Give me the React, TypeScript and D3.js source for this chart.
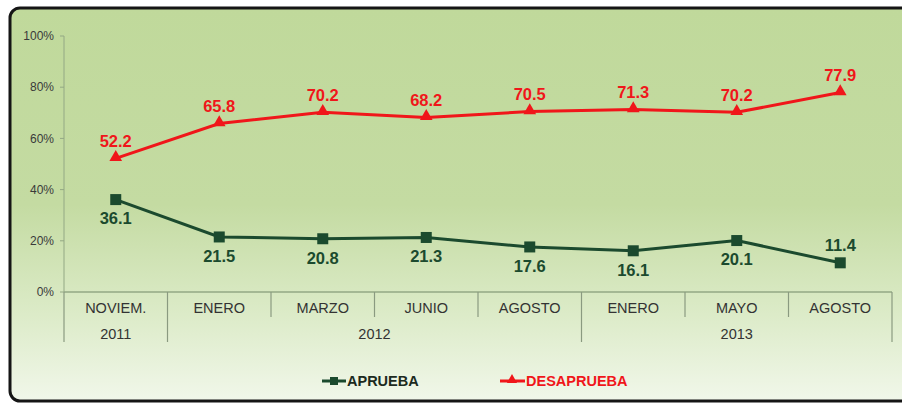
import React from "react";
import * as d3 from "d3";

const months = ["NOVIEM.", "ENERO", "MARZO", "JUNIO", "AGOSTO", "ENERO", "MAYO", "AGOSTO"];
const years = [
  { label: "2011", start: 0, end: 1 },
  { label: "2012", start: 1, end: 5 },
  { label: "2013", start: 5, end: 8 },
];
const aprueba = [36.1, 21.5, 20.8, 21.3, 17.6, 16.1, 20.1, 11.4];
const desaprueba = [52.2, 65.8, 70.2, 68.2, 70.5, 71.3, 70.2, 77.9];
const yTicks = [0, 20, 40, 60, 80, 100];
const apruebaAbove = [false, false, false, false, false, false, false, true];

const W = 902;
const H = 405;
const GREEN = "#1b4a2e";
const RED = "#f0161a";
const FONT = "'Liberation Sans', Arial, sans-serif";

export default function App() {
  const x0 = 64;
  const x1 = 892;
  const y = d3.scaleLinear().domain([0, 100]).range([292, 36]);
  const band = d3.scaleBand<number>().domain(d3.range(months.length)).range([x0, x1]).padding(0);
  const cx = (i: number) => (band(i) as number) + band.bandwidth() / 2;
  const line = d3.line<number>().x((_, i) => cx(i)).y((v) => y(v));
  const tri = d3.symbol().type(d3.symbolTriangle).size(70)();

  return (
    <svg width={W} height={H} style={{ position: "absolute", left: 0, top: 0 }}>
      <defs>
        <linearGradient id="bg" x1="0" y1="0" x2="0" y2="1">
          <stop offset="0" stopColor="#c0d99b" />
          <stop offset="0.5" stopColor="#c4dba2" />
          <stop offset="0.78" stopColor="#dcebc8" />
          <stop offset="1" stopColor="#f1f7ea" />
        </linearGradient>
      </defs>
      <rect x={0} y={0} width={W} height={H} fill="#ffffff" />
      <rect x={10} y={8} width={W + 20} height={393} rx={10} ry={10} fill="url(#bg)" stroke="#151515" strokeWidth={3} />

      {/* y axis */}
      <line x1={x0} x2={x0} y1={y(100)} y2={y(0)} stroke="#93a884" strokeWidth={1} />
      {yTicks.map((t) => (
        <g key={t}>
          <line x1={x0 - 4} x2={x0} y1={y(t)} y2={y(t)} stroke="#93a884" />
          <text x={54} y={y(t)} dy="0.35em" textAnchor="end" fontFamily={FONT} fontSize={12} fill="#3a3a3a">
            {t}%
          </text>
        </g>
      ))}

      {/* x axis */}
      <line x1={x0} x2={x1} y1={y(0)} y2={y(0)} stroke="#93a884" strokeWidth={1.5} />
      {d3.range(months.length + 1).map((i) => {
        const xx = i < months.length ? (band(i) as number) : x1;
        const isYear = years.some((yr) => yr.start === i || yr.end === i);
        return (
          <line key={i} x1={xx} x2={xx} y1={y(0)} y2={isYear ? 342 : 317} stroke="#8a9a80" strokeWidth={1.2} />
        );
      })}
      {months.map((m, i) => (
        <text key={i} x={cx(i)} y={308} dy="0.35em" textAnchor="middle" fontFamily={FONT} fontSize={14.5} fill="#333">
          {m}
        </text>
      ))}
      {years.map((yr) => {
        const xs = band(yr.start) as number;
        const xe = yr.end < months.length ? (band(yr.end) as number) : x1;
        return (
          <text key={yr.label} x={(xs + xe) / 2} y={334} dy="0.35em" textAnchor="middle" fontFamily={FONT} fontSize={14.5} fill="#333">
            {yr.label}
          </text>
        );
      })}

      {/* lines */}
      <path d={line(aprueba) || ""} fill="none" stroke={GREEN} strokeWidth={3} />
      <path d={line(desaprueba) || ""} fill="none" stroke={RED} strokeWidth={3} />
      {aprueba.map((v, i) => (
        <rect key={i} x={cx(i) - 5.5} y={y(v) - 5.5} width={11} height={11} fill={GREEN} />
      ))}
      {desaprueba.map((v, i) => (
        <path key={i} d={tri || ""} transform={`translate(${cx(i)},${y(v) - 1})`} fill={RED} />
      ))}

      {/* labels */}
      {aprueba.map((v, i) => (
        <text
          key={i}
          x={cx(i)}
          y={apruebaAbove[i] ? y(v) - 18 : y(v) + 19}
          dy="0.35em"
          textAnchor="middle"
          fontFamily={FONT}
          fontWeight="bold"
          fontSize={16.5}
          fill={GREEN}
        >
          {v.toFixed(1)}
        </text>
      ))}
      {desaprueba.map((v, i) => (
        <text
          key={i}
          x={cx(i)}
          y={y(v) - 17}
          dy="0.35em"
          textAnchor="middle"
          fontFamily={FONT}
          fontWeight="bold"
          fontSize={16.5}
          fill={RED}
        >
          {v.toFixed(1)}
        </text>
      ))}

      {/* legend */}
      <g>
        <line x1={322} x2={346} y1={381} y2={381} stroke={GREEN} strokeWidth={3} />
        <rect x={330} y={377} width={8} height={8} fill={GREEN} />
        <text x={347} y={381} dy="0.35em" fontFamily={FONT} fontWeight="bold" fontSize={14.5} fill="#1c2a20">
          APRUEBA
        </text>
        <line x1={500} x2={525} y1={381} y2={381} stroke={RED} strokeWidth={3} />
        <path d={d3.symbol().type(d3.symbolTriangle).size(45)() || ""} transform="translate(512,380)" fill={RED} />
        <text x={526} y={381} dy="0.35em" fontFamily={FONT} fontWeight="bold" fontSize={14.5} fill={RED}>
          DESAPRUEBA
        </text>
      </g>
    </svg>
  );
}
